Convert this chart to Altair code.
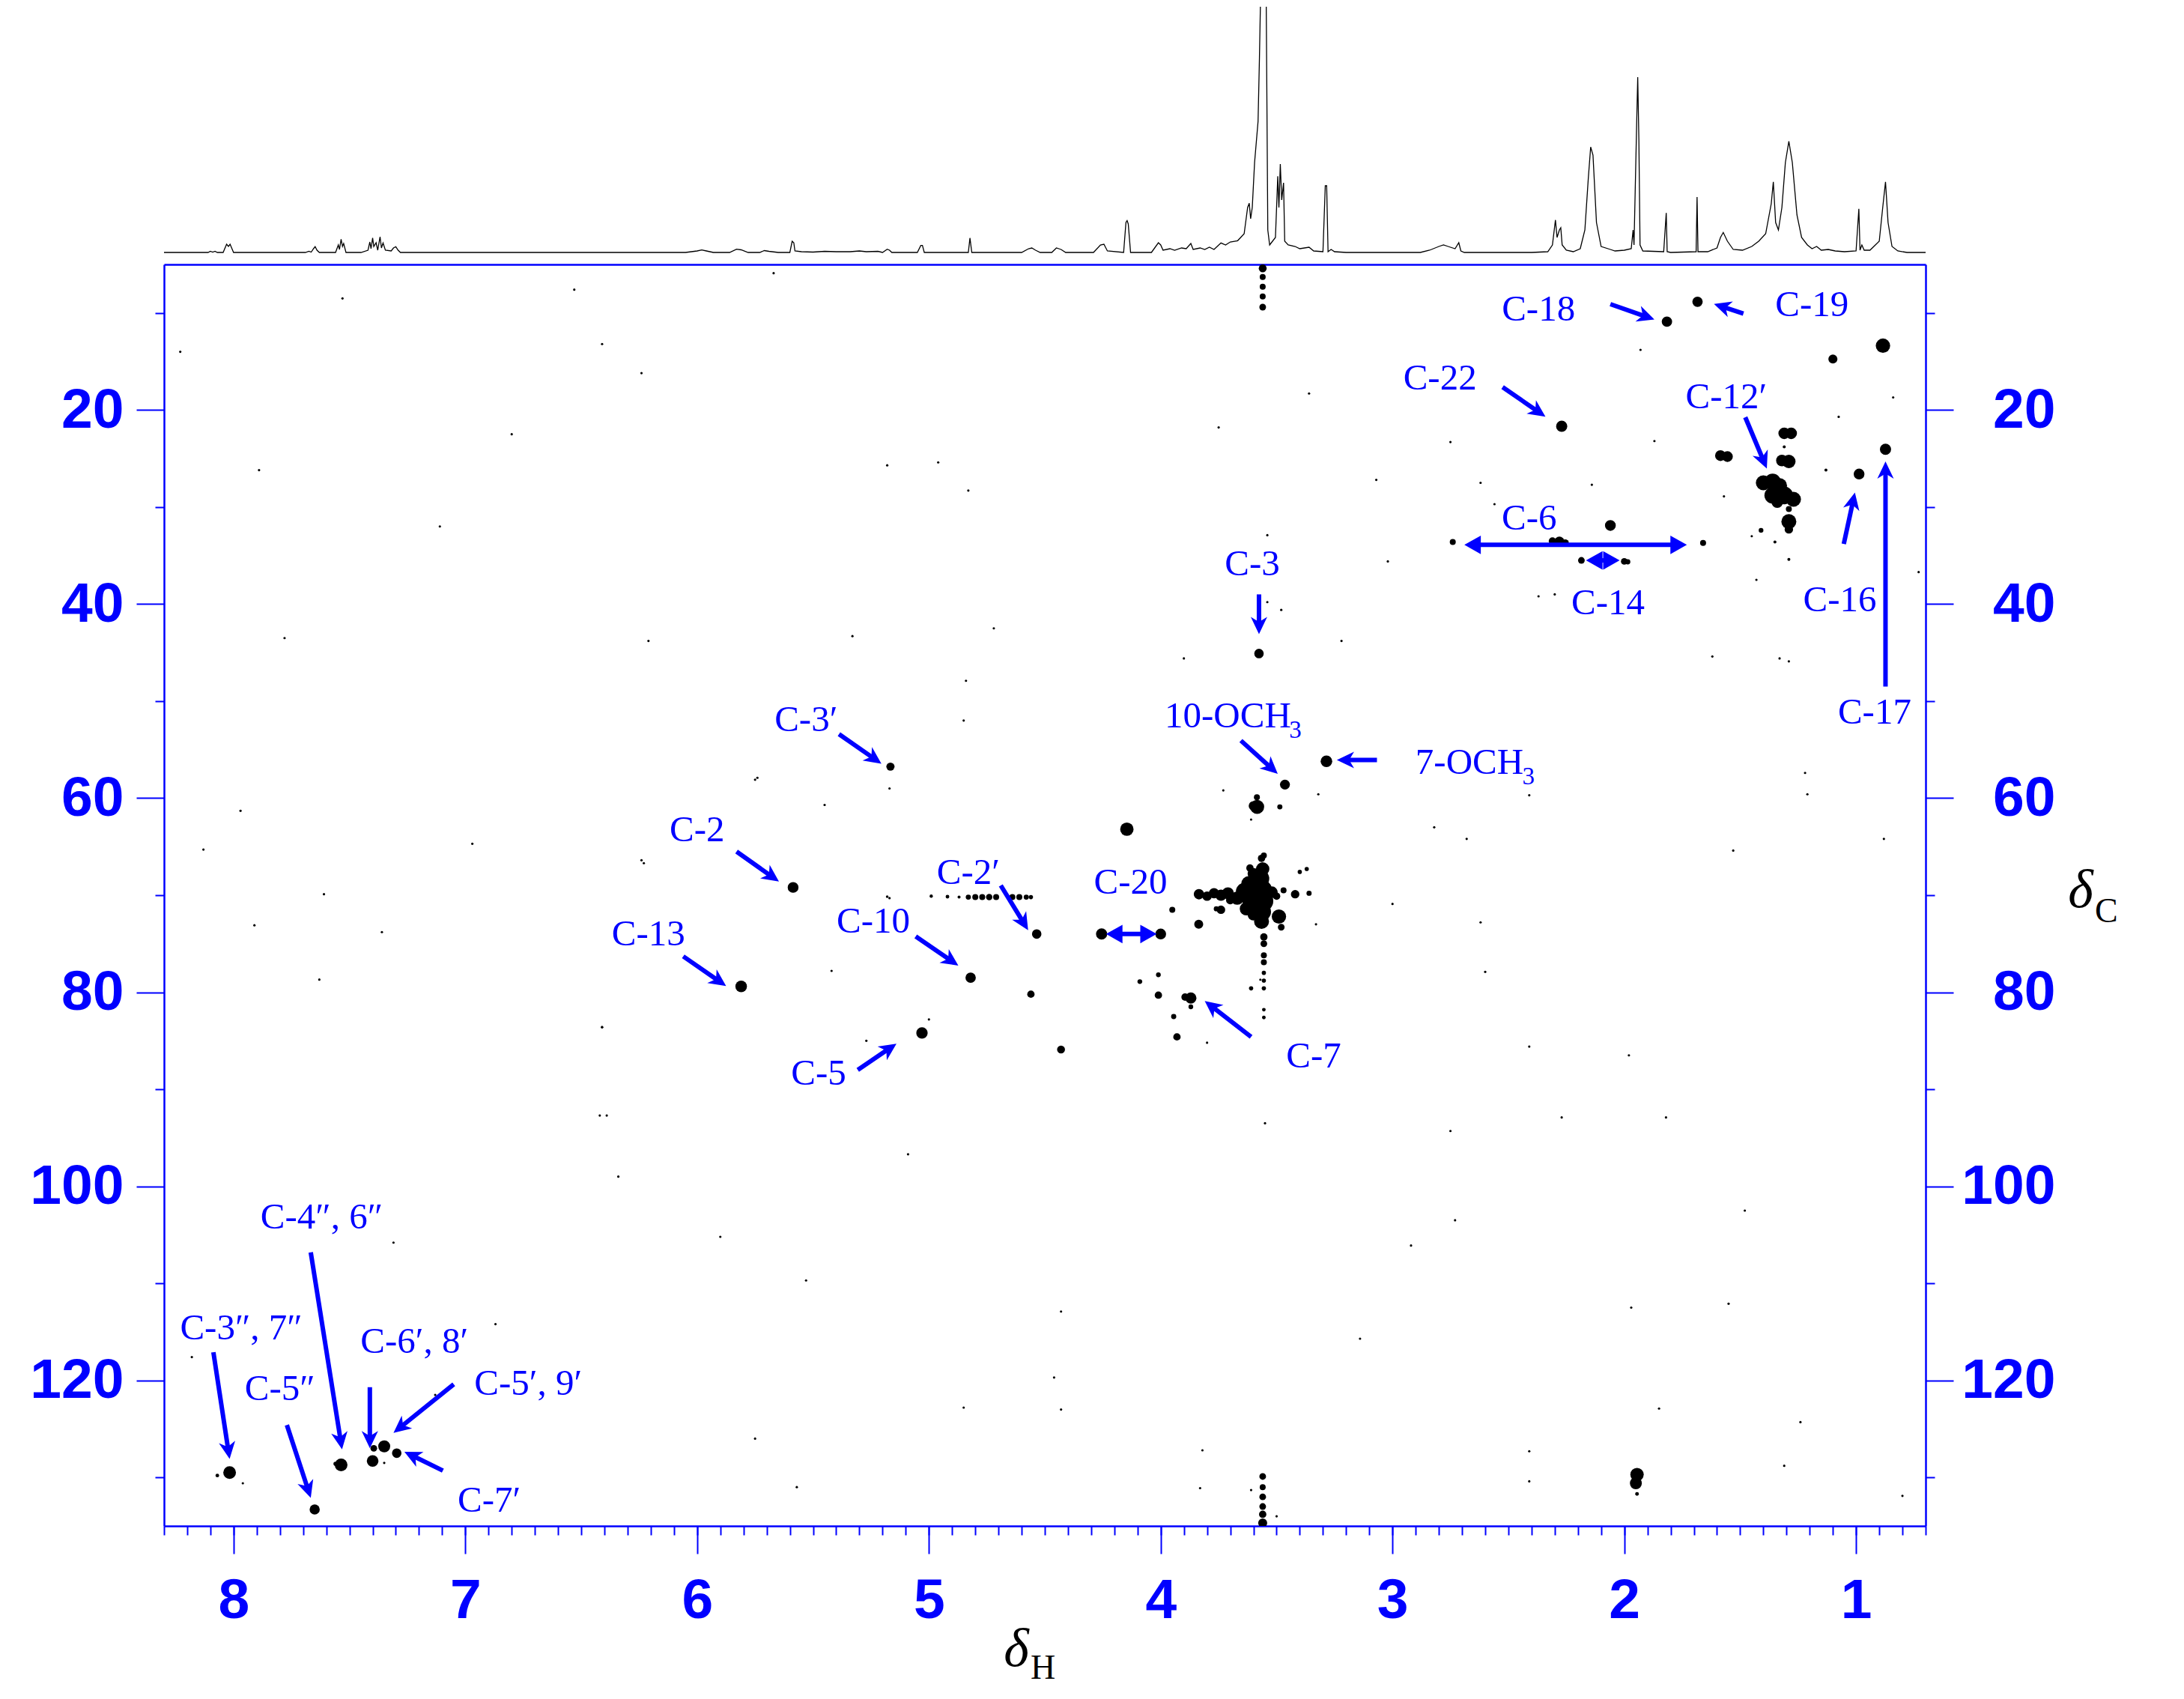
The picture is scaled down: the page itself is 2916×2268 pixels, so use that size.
import math
import altair as alt
import pandas as pd

BLUE = "#0000ff"

# ---------------- 1H projection trace (ppm, height above baseline) ----------------
trace_aromatic = [
    (8.30, 0), (8.11, 0), (8.10, 1.5), (8.09, 0.5), (8.08, 1.5), (8.07, 0), (8.045, 0),
    (8.03, 11), (8.022, 8), (8.015, 11), (8.00, 0),
    (7.69, 0), (7.675, 1.5), (7.665, 0.5), (7.655, 5), (7.648, 7.7), (7.64, 3), (7.63, 0),
    (7.56, 0), (7.548, 10), (7.543, 4), (7.536, 17.7), (7.530, 8), (7.525, 12), (7.515, 0),
    (7.45, 0), (7.42, 3), (7.412, 14), (7.407, 5), (7.40, 19.3), (7.395, 8), (7.385, 13),
    (7.378, 3), (7.368, 21), (7.362, 6), (7.355, 12.7), (7.345, 3), (7.32, 2), (7.31, 6),
    (7.30, 7.7), (7.29, 3), (7.28, 0),
]
trace_mid = [
    (6.05, 0), (6.00, 2), (5.98, 3.3), (5.96, 2), (5.93, 0), (5.86, 0), (5.83, 4.3), (5.81, 3.5),
    (5.78, 0), (5.73, 0), (5.71, 2.5), (5.69, 1.5), (5.65, 0), (5.60, 0), (5.59, 15), (5.583, 13),
    (5.578, 2), (5.55, 1), (5.50, 0.5), (5.45, 1.5), (5.40, 1), (5.34, 1), (5.30, 2), (5.27, 1),
    (5.22, 1.5), (5.20, 0), (5.18, 4.3), (5.17, 3), (5.16, 0), (5.05, 0), (5.035, 9.3),
    (5.028, 9.3), (5.02, 0), (4.83, 0), (4.823, 19.3), (4.815, 0), (4.60, 0), (4.57, 5),
    (4.556, 6), (4.54, 3), (4.52, 0), (4.47, 0), (4.45, 6), (4.43, 4), (4.41, 0), (4.29, 0),
    (4.26, 10), (4.245, 11), (4.23, 2), (4.16, 0), (4.150, 40), (4.145, 42.5), (4.140, 38),
    (4.13, 0), (4.04, 0), (4.01, 13), (4.00, 10), (3.99, 3), (3.96, 5), (3.94, 3), (3.91, 6),
    (3.89, 5), (3.87, 12), (3.86, 4), (3.83, 6), (3.81, 4), (3.79, 7), (3.77, 4), (3.74, 12.7),
    (3.72, 10), (3.70, 14), (3.668, 15.7), (3.655, 20), (3.640, 25), (3.625, 60), (3.618, 65.7),
    (3.612, 45), (3.605, 60), (3.595, 120), (3.58, 175), (3.574, 260), (3.569, 345),
    (3.545, 345), (3.538, 30), (3.530, 10), (3.505, 20), (3.495, 101.7), (3.490, 60),
    (3.484, 118), (3.478, 70), (3.470, 93), (3.465, 15), (3.45, 10), (3.42, 8), (3.40, 5),
    (3.36, 7), (3.34, 2), (3.30, 1), (3.290, 89), (3.284, 89), (3.278, 1), (3.265, 4),
    (3.25, 1), (3.20, 0),
]
trace_aliphatic = [
    (2.88, 0), (2.84, 3), (2.80, 8), (2.78, 10), (2.76, 8), (2.73, 5), (2.714, 13), (2.705, 2),
    (2.69, 0), (2.40, 0), (2.33, 1), (2.31, 10), (2.297, 43.3), (2.290, 20), (2.280, 30),
    (2.274, 33), (2.268, 10), (2.25, 3), (2.22, 1), (2.19, 5), (2.17, 30), (2.155, 100),
    (2.145, 140.7), (2.135, 130), (2.120, 40), (2.100, 8), (2.06, 4), (2.04, 2), (2.00, 3),
    (1.97, 5), (1.962, 30), (1.958, 10), (1.946, 180), (1.942, 234), (1.937, 150), (1.932, 10),
    (1.92, 2), (1.83, 1), (1.819, 52.7), (1.815, 1), (1.80, 0), (1.69, 1), (1.686, 74),
    (1.682, 1), (1.64, 1), (1.60, 6), (1.585, 20), (1.573, 26.7), (1.555, 15), (1.53, 4),
    (1.49, 3), (1.45, 8), (1.42, 15), (1.39, 25), (1.366, 65), (1.357, 94.3), (1.347, 40),
    (1.335, 30), (1.32, 60), (1.305, 120), (1.29, 148.3), (1.275, 120), (1.255, 50),
    (1.235, 20), (1.21, 10), (1.19, 5), (1.17, 8), (1.15, 3), (1.12, 4), (1.09, 2), (1.05, 1),
    (1.00, 2), (0.988, 58.3), (0.983, 3), (0.975, 10), (0.965, 3), (0.94, 3), (0.90, 15),
    (0.885, 60), (0.873, 94.3), (0.862, 40), (0.845, 8), (0.82, 2), (0.78, 0), (0.70, 0),
]

# ---------------- HSQC cross peaks: (dH, dC, relative intensity) ----------------
peaks_aliphatic = [
    (1.684, 8.85, 12), (1.816, 10.9, 12), (0.884, 13.37, 23), (1.10, 14.74, 9), (2.27, 21.67, 14),
    (1.31, 22.4, 15), (1.28, 22.4, 15), (1.31, 23.8, 1), (1.585, 24.7, 13), (1.555, 24.8, 13),
    (1.32, 25.2, 15), (1.29, 25.3, 20), (0.873, 24.05, 14), (0.987, 26.6, 13), (1.13, 26.2, 1),
    (1.40, 27.5, 25), (1.36, 27.4, 30), (1.33, 27.8, 25), (1.36, 28.8, 30), (1.31, 28.8, 35),
    (1.27, 29.2, 25), (1.34, 29.5, 15), (1.29, 30.2, 4), (1.29, 31.5, 25), (1.29, 32.3, 8),
    (1.41, 32.4, 2.5), (1.45, 33.0, 0.6), (1.35, 33.6, 1), (2.06, 31.9, 13),
    (2.31, 33.5, 6), (2.28, 33.55, 11), (2.255, 33.7, 6), (2.74, 33.6, 4), (1.66, 33.7, 4),
    (2.185, 35.5, 5), (2.00, 35.6, 5), (1.985, 35.65, 3), (1.29, 35.4, 1),
]
peaks_oxygenated = [
    (3.576, 45.1, 10), (3.285, 56.2, 15), (3.464, 58.6, 11), (3.584, 60.9, 22), (3.60, 60.8, 10),
    (3.585, 59.9, 4), (3.486, 60.9, 3), (4.146, 63.2, 20), (3.61, 62.2, 0.6),
    (3.565, 66.2, 6), (3.56, 67.3, 20), (3.57, 68.3, 35), (3.565, 69.5, 50), (3.56, 70.6, 50),
    (3.565, 71.7, 40), (3.565, 72.7, 25), (3.60, 67.8, 15), (3.62, 68.8, 25), (3.64, 69.6, 30),
    (3.61, 70.5, 35), (3.63, 71.4, 20), (3.60, 72.0, 15), (3.67, 70.3, 20),
    (3.835, 69.9, 12), (3.80, 70.1, 10), (3.77, 69.8, 12), (3.74, 70.0, 14), (3.71, 69.8, 16),
    (3.70, 70.5, 8), (3.52, 69.7, 15), (3.50, 70.1, 6), (3.47, 69.5, 4), (3.42, 69.9, 8),
    (3.36, 69.8, 3), (3.49, 72.2, 23), (3.48, 73.3, 5), (3.836, 73.0, 9), (3.95, 71.5, 4),
    (3.74, 71.5, 8), (3.76, 71.4, 3), (3.40, 67.6, 2), (3.37, 67.3, 2),
    (3.555, 74.3, 6), (3.555, 75.0, 5), (3.555, 76.2, 4), (3.555, 76.9, 4), (3.555, 78.0, 2),
    (3.555, 78.8, 2), (3.555, 79.6, 2), (3.555, 81.8, 1.5), (3.555, 82.6, 1.5),
    (3.555, 65.9, 4), (3.615, 67.2, 6),
    (4.255, 74.0, 14), (4.00, 74.0, 13),
    (3.87, 80.6, 14), (3.895, 80.5, 6), (3.87, 81.5, 2.5), (3.944, 82.5, 3), (3.93, 84.6, 6),
    (3.80, 85.2, 0.6), (3.61, 79.6, 2), (3.57, 78.7, 0.6), (4.01, 80.3, 6), (4.01, 78.2, 2.5),
    (4.09, 78.9, 2.5),
    (5.166, 56.75, 7.5), (5.586, 69.2, 13), (4.535, 74.0, 10), (4.82, 78.5, 12), (4.56, 80.2, 6),
    (5.81, 79.4, 15), (5.03, 84.2, 14.5), (4.43, 85.9, 7),
    (5.18, 70.15, 0.8), (4.99, 70.1, 1.2), (4.92, 70.15, 1.5), (4.87, 70.2, 1), (4.83, 70.2, 3),
    (4.80, 70.2, 4), (4.77, 70.2, 4), (4.74, 70.2, 4.5), (4.71, 70.2, 4), (4.64, 70.2, 4),
    (4.61, 70.2, 4), (4.58, 70.2, 3), (4.56, 70.2, 2),
]
peaks_aromatic = [
    (8.017, 129.5, 18), (8.07, 129.8, 1.5), (7.65, 133.3, 11.5), (7.536, 128.7, 18),
    (7.56, 128.6, 2), (7.40, 128.3, 15), (7.395, 127.0, 5), (7.35, 126.8, 16), (7.296, 127.5, 10),
    (1.945, 129.7, 20), (1.95, 130.6, 16), (1.945, 131.7, 1.5),
]
peaks_t1_noise = [
    (3.56, 129.9, 5), (3.56, 131.0, 4), (3.56, 132.0, 5), (3.56, 133.0, 5), (3.56, 133.8, 6),
    (3.56, 134.7, 9), (3.56, 5.4, 7), (3.56, 6.3, 4), (3.56, 7.3, 4), (3.56, 8.3, 4), (3.56, 9.4, 5),
]

# isolated noise specks (dH, dC)
noise_h = [7.53, 6.53, 8.23, 6.41, 6.24, 5.67, 7.89, 6.80, 5.18, 7.11, 4.83, 7.78, 6.21, 5.75,
           7.97, 8.13, 6.97, 6.24, 5.17, 7.91, 7.61, 7.36, 7.63, 6.41, 6.42, 5.09, 6.34, 5.90,
           5.53, 4.43, 4.46, 4.43, 5.75, 5.57, 4.85, 3.82, 3.83, 3.14, 2.92, 2.41, 2.41, 1.85,
           1.24, 1.31, 0.80, 1.33, 1.22, 1.21, 0.88, 1.53, 1.98, 1.82, 1.48, 1.55, 1.97, 2.73,
           2.27, 2.62, 2.82, 3.07, 2.37, 3.02, 3.36, 3.75, 4.96, 3.54, 3.54, 5.33, 4.72, 4.84,
           1.93, 0.84, 1.075, 2.75, 1.87, 2.62, 2.14, 2.56, 1.57, 2.30, 1.43, 0.73, 1.62, 1.29,
           3.33, 3.00, 2.60, 2.41, 3.55, 2.75, 3.48, 3.22, 3.90, 3.73, 3.32, 2.68, 2.41,
           5.17, 5.74, 5.45, 4.85, 6.23, 5.42, 5.00, 5.27, 6.41, 6.39, 7.96, 7.35, 7.31, 6.87,
           8.18, 7.13, 3.61, 3.50]
noise_c = [8.5, 7.6, 14.0, 13.2, 16.2, 5.9, 26.2, 22.5, 25.7, 32.0, 28.3, 43.5, 43.8, 58.1,
           61.3, 65.3, 64.7, 66.4, 70.3, 73.1, 69.9, 73.8, 78.7, 83.6, 92.7, 96.7, 99.0, 105.2,
           109.7, 112.9, 119.7, 123.0, 126.0, 131.0, 122.8, 127.2, 131.1, 115.7, 106.1, 127.3,
           130.4, 122.9, 124.3, 128.8, 131.9, 45.6, 57.4, 59.6, 64.2, 65.4, 86.5, 92.9, 102.5,
           112.1, 112.5, 103.5, 92.9, 72.8, 63.0, 27.2, 39.2, 35.6, 18.3, 21.8, 25.4, 32.9, 39.8,
           43.3, 42.5, 47.9,
           13.8, 18.7, 20.7, 23.3, 23.2, 27.5, 27.7, 29.7, 28.9, 39.0, 37.5, 36.7, 45.4, 45.9,
           73.0, 70.9, 77.9, 85.6, 93.5, 94.3, 40.6, 43.8, 45.6, 59.2, 59.6, 64.2, 59.7,
           59.0, 57.9, 60.7, 52.0, 66.7, 77.8, 82.8, 85.0, 83.6, 92.7, 130.6, 128.5, 105.8, 114.2,
           117.6, 121.5, 131.3, 134.0]

# ---------------- annotations ----------------
label_text = ["C-18", "C-19", "C-22", "C-12\u2032", "C-6", "C-14", "C-16", "C-17", "C-3", "C-7",
              "C-20", "C-3\u2032", "C-2", "C-2\u2032", "C-10", "C-13", "C-5",
              "C-4\u2033, 6\u2033", "C-3\u2033, 7\u2033", "C-5\u2033", "C-6\u2032, 8\u2032",
              "C-5\u2032, 9\u2032", "C-7\u2032"]
label_h = [2.37, 1.19, 2.795, 1.56, 2.41, 2.07, 1.07, 0.92, 3.605, 3.34,
           4.13, 5.53, 6.00, 4.83, 5.24, 6.21, 5.476,
           7.62, 7.967, 7.80, 7.22, 6.729, 6.897]
label_c = [9.67, 9.2, 16.7, 18.66, 31.2, 39.9, 39.6, 51.2, 35.85, 86.6,
           68.7, 51.9, 63.3, 67.7, 72.7, 74.0, 88.4,
           103.2, 114.6, 120.9, 116.0, 120.3, 132.4]

methoxy_text = ["10-OCH", "7-OCH"]
methoxy_h = [3.983, 2.901]
methoxy_c = [52.73, 57.53]
methoxy_sub_h = [3.446, 2.440]
methoxy_sub_c = [53.75, 58.55]

arrow_h1 = [2.06, 1.486, 2.525, 1.478, 2.69, 2.165, 1.053, 0.873, 3.576, 3.654, 3.067, 3.61,
            4.236, 5.388, 5.83, 4.69, 5.057, 6.06, 5.307, 7.667, 8.087, 7.77, 7.412, 7.05, 7.097]
arrow_c1 = [9.09, 10.07, 17.64, 20.75, 33.9, 35.5, 33.8, 48.5, 39.0, 54.07, 56.07, 84.6,
            74.0, 53.4, 65.5, 69.0, 74.25, 76.3, 88.0, 106.8, 117.1, 124.6, 120.7, 120.4, 129.3]
arrow_h2 = [1.87, 1.613, 2.34, 1.385, 1.73, 2.02, 1.005, 0.873, 3.576, 3.495, 3.24, 3.81,
            4.017, 5.205, 5.647, 4.572, 4.873, 5.875, 5.14, 7.532, 8.017, 7.667, 7.412, 7.31, 7.263]
arrow_c2 = [10.68, 9.07, 20.69, 26.04, 33.9, 35.5, 28.5, 25.3, 43.1, 57.5, 56.07, 80.9,
            74.0, 56.45, 68.6, 73.6, 77.26, 79.36, 85.3, 127.1, 128.1, 132.1, 127.0, 125.4, 127.35]
arrow_both = [False, False, False, False, True, True, False, False, False, False, False, False,
              True, False, False, False, False, False, False, False, False, False, False, False, False]

# ---------------- geometry ----------------
W, H = 2352, 1684
X_LO, X_HI = 0.7, 8.3
Y_LO, Y_HI = 5, 135
KX = W / (X_HI - X_LO)
KY = H / (Y_HI - Y_LO)
HEAD_BARB = "M0,0L0.55,1.15L0,0.82L-0.55,1.15Z"
HEAD_PLAIN = "M0,0L0.62,1.1L-0.62,1.1Z"
HEAD_SIZE = 1600
SHORTEN = 15


def to_px(h, c):
    return (X_HI - h) * KX, (c - Y_LO) * KY


def to_data(x, y):
    return X_HI - x / KX, Y_LO + y / KY


shaft_rows, barb_rows, plain_rows = [], [], []
for h1, c1, h2, c2, both in zip(arrow_h1, arrow_c1, arrow_h2, arrow_c2, arrow_both):
    x1, y1 = to_px(h1, c1)
    x2, y2 = to_px(h2, c2)
    dx, dy = x2 - x1, y2 - y1
    L = math.hypot(dx, dy)
    ux, uy = dx / L, dy / L
    ang = math.degrees(math.atan2(ux, -uy)) % 360
    ex, ey = x2 - ux * SHORTEN, y2 - uy * SHORTEN
    if both:
        plain_rows.append({"h": h2, "c": c2, "ang": ang})
        plain_rows.append({"h": h1, "c": c1, "ang": (ang + 180) % 360})
        sx, sy = x1 + ux * SHORTEN, y1 + uy * SHORTEN
    else:
        barb_rows.append({"h": h2, "c": c2, "ang": ang})
        sx, sy = x1, y1
    a_h, a_c = to_data(sx, sy)
    b_h, b_c = to_data(ex, ey)
    shaft_rows.append({"h": a_h, "c": a_c, "h2": b_h, "c2": b_c})

trace = trace_aromatic + trace_mid + trace_aliphatic
spec_df = pd.DataFrame({"ppm": [p for p, _ in trace], "v": [v for _, v in trace],
                        "i": list(range(len(trace)))})
peaks = peaks_aliphatic + peaks_oxygenated + peaks_aromatic + peaks_t1_noise
peak_df = pd.DataFrame({"h": [p[0] for p in peaks], "c": [p[1] for p in peaks],
                        "v": [p[2] for p in peaks]})
noise_df = pd.DataFrame({"h": noise_h, "c": noise_c})
label_df = pd.DataFrame({"t": label_text, "h": label_h, "c": label_c})
meth_df = pd.DataFrame({"t": methoxy_text, "h": methoxy_h, "c": methoxy_c})
sub_df = pd.DataFrame({"t": ["3", "3"], "h": methoxy_sub_h, "c": methoxy_sub_c})
shaft_df = pd.DataFrame(shaft_rows)
barb_df = pd.DataFrame(barb_rows)
plain_df = pd.DataFrame(plain_rows)
one = pd.DataFrame({"k": [0]})

xs = alt.Scale(domain=[X_LO, X_HI], reverse=True, nice=False, zero=False)
ys = alt.Scale(domain=[Y_LO, Y_HI], reverse=True, nice=False, zero=False)

common = dict(domainColor=BLUE, domainWidth=2.5, tickColor=BLUE, tickWidth=2,
              labelColor=BLUE, labelFont="Liberation Sans", labelFontWeight="bold",
              labelFontSize=75, grid=False, title="", labelFlush=False, labelOverlap=False)

x_major = alt.Axis(orient="bottom", values=list(range(1, 9)), tickSize=37, labelPadding=26,
                   format="d", **common)
x_minor = alt.Axis(orient="bottom", values=[round(0.7 + 0.1 * i, 1) for i in range(77)],
                   tickSize=12, labels=False, domain=False, **common)
x_top = alt.Axis(orient="top", ticks=False, labels=False, **common)
y_left = alt.Axis(orient="left", values=list(range(20, 121, 20)), tickSize=37,
                  labelPadding=17, format="d", **common)
y_left_minor = alt.Axis(orient="left", values=list(range(10, 131, 20)), tickSize=12,
                        labels=False, domain=False, **common)
y_right = alt.Axis(orient="right", values=list(range(20, 121, 20)), tickSize=37,
                   labelPadding=136, labelAlign="right", format="d", **common)
y_right_minor = alt.Axis(orient="right", values=list(range(10, 131, 20)), tickSize=12,
                         labels=False, domain=False, **common)

# ---------------- top 1D trace ----------------
spectrum = alt.Chart(spec_df).mark_line(color="black", strokeWidth=1.3, clip=True).encode(
    x=alt.X("ppm:Q", scale=xs, axis=None),
    y=alt.Y("v:Q", scale=alt.Scale(domain=[-4, 328], nice=False, zero=False), axis=None),
    order="i:Q",
).properties(width=W, height=332)

# ---------------- 2D layers ----------------
peaks_layer = alt.Chart(peak_df).mark_circle(color="black", opacity=1, clip=True).encode(
    x=alt.X("h:Q", scale=xs, axis=x_major),
    y=alt.Y("c:Q", scale=ys, axis=y_left),
    size=alt.Size("v:Q", scale=alt.Scale(domain=[0, 50], range=[0, 800], zero=True), legend=None),
)
noise_layer = alt.Chart(noise_df).mark_circle(color="black", opacity=1, size=10, clip=True).encode(
    x=alt.X("h:Q", scale=xs, axis=x_minor),
    y=alt.Y("c:Q", scale=ys, axis=y_left_minor),
)
shaft_layer = alt.Chart(shaft_df).mark_rule(color=BLUE, strokeWidth=6, strokeCap="butt").encode(
    x=alt.X("h:Q", scale=xs, axis=None),
    y=alt.Y("c:Q", scale=ys, axis=y_right_minor),
    x2="h2:Q",
    y2="c2:Q",
)
barb_layer = alt.Chart(barb_df).mark_point(shape=HEAD_BARB, filled=True, opacity=1, color=BLUE,
                                           size=HEAD_SIZE, strokeWidth=0).encode(
    x=alt.X("h:Q", scale=xs, axis=None),
    y=alt.Y("c:Q", scale=ys, axis=None),
    angle=alt.Angle("ang:Q", scale=None),
)
plain_layer = alt.Chart(plain_df).mark_point(shape=HEAD_PLAIN, filled=True, opacity=1, color=BLUE,
                                             size=HEAD_SIZE, strokeWidth=0).encode(
    x=alt.X("h:Q", scale=xs, axis=None),
    y=alt.Y("c:Q", scale=ys, axis=None),
    angle=alt.Angle("ang:Q", scale=None),
)
label_layer = alt.Chart(label_df).mark_text(font="Liberation Serif", fontSize=49, color=BLUE,
                                            align="center", baseline="middle").encode(
    x=alt.X("h:Q", scale=xs, axis=x_top),
    y=alt.Y("c:Q", scale=ys, axis=y_right),
    text="t:N",
)
meth_layer = alt.Chart(meth_df).mark_text(font="Liberation Serif", fontSize=49, color=BLUE,
                                          align="left", baseline="alphabetic").encode(
    x=alt.X("h:Q", scale=xs, axis=None),
    y=alt.Y("c:Q", scale=ys, axis=None),
    text="t:N",
)
sub_layer = alt.Chart(sub_df).mark_text(font="Liberation Serif", fontSize=33, color=BLUE,
                                        align="left", baseline="alphabetic").encode(
    x=alt.X("h:Q", scale=xs, axis=None),
    y=alt.Y("c:Q", scale=ys, axis=None),
    text="t:N",
)


def title_mark(txt, px, py, size, italic, align):
    kw = dict(text=txt, font="Liberation Serif", fontSize=size, color="black",
              align=align, baseline="alphabetic")
    if italic:
        kw["fontStyle"] = "italic"
    return alt.Chart(one).mark_text(**kw).encode(x=alt.value(px), y=alt.value(py))


titles = [
    title_mark("\u03b4", 1138, 1871, 72, True, "center"),
    title_mark("H", 1157, 1888, 46, False, "left"),
    title_mark("\u03b4", 2559, 858, 72, True, "center"),
    title_mark("C", 2578, 878, 46, False, "left"),
]

hsqc = alt.layer(peaks_layer, noise_layer, shaft_layer, barb_layer, plain_layer, label_layer,
                 meth_layer, sub_layer, *titles).resolve_axis(
    x="independent", y="independent").properties(width=W, height=H)

chart = alt.vconcat(spectrum, hsqc, spacing=12, bounds="flush").properties(
    padding={"left": 31, "top": 0, "right": 10, "bottom": 10}
).configure_view(stroke="transparent")

chart.save("out.html", embed_options={"renderer": "svg", "actions": False})
